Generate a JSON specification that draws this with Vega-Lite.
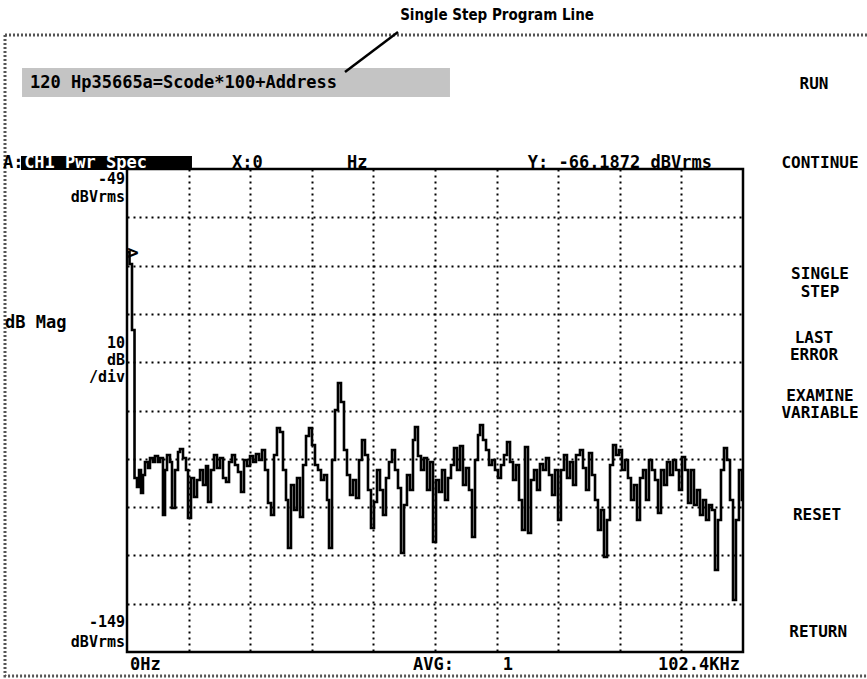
{
  "$schema": "https://vega.github.io/schema/vega-lite/v6.json",
  "width": 616,
  "height": 483,
  "autosize": "none",
  "padding": {"left": 127, "top": 169, "right": 124, "bottom": 27},
  "background": "white",
  "config": {
    "view": {"stroke": "black", "strokeWidth": 2.5},
    "text": {"font": "DejaVu Sans Mono", "fontWeight": "bold", "fontSize": 17, "baseline": "middle", "color": "black"}
  },
  "datasets": {
    "trace": [
      {"f":0,"db":-66.19},{"f":0.42,"db":-68.67},{"f":0.83,"db":-82.33},{"f":1.25,"db":-112.98},{"f":1.66,"db":-114.84},
      {"f":2.0,"db":-111.32},{"f":2.33,"db":-116.08},{"f":2.66,"db":-112.35},{"f":2.99,"db":-109.66},{"f":3.49,"db":-110.9},
      {"f":3.82,"db":-108.83},{"f":4.32,"db":-109.66},{"f":4.65,"db":-108.42},{"f":5.15,"db":-109.66},{"f":5.49,"db":-108.83},
      {"f":5.98,"db":-120.64},{"f":6.32,"db":-111.32},{"f":6.65,"db":-108.21},{"f":7.15,"db":-109.66},{"f":7.48,"db":-119.19},
      {"f":7.98,"db":-111.32},{"f":8.48,"db":-107.59},{"f":8.81,"db":-106.97},{"f":9.31,"db":-108.83},{"f":9.81,"db":-111.32},
      {"f":10.14,"db":-121.26},{"f":10.64,"db":-112.98},{"f":11.14,"db":-116.91},{"f":11.64,"db":-113.39},{"f":12.14,"db":-111.32},
      {"f":12.63,"db":-114.42},{"f":13.13,"db":-110.49},{"f":13.47,"db":-117.94},{"f":13.96,"db":-111.32},{"f":14.46,"db":-108.21},
      {"f":14.96,"db":-110.9},{"f":15.46,"db":-108.83},{"f":15.96,"db":-112.98},{"f":16.46,"db":-113.8},{"f":16.96,"db":-109.66},
      {"f":17.45,"db":-108.21},{"f":17.95,"db":-110.28},{"f":18.45,"db":-111.73},{"f":18.95,"db":-115.87},{"f":19.45,"db":-109.25},
      {"f":19.95,"db":-110.49},{"f":20.45,"db":-108.42},{"f":20.95,"db":-109.66},{"f":21.44,"db":-108.01},{"f":21.94,"db":-109.25},
      {"f":22.44,"db":-107.18},{"f":22.94,"db":-111.32},{"f":23.44,"db":-118.15},{"f":23.94,"db":-120.64},{"f":24.44,"db":-108.21},
      {"f":24.93,"db":-102.62},{"f":25.43,"db":-103.45},{"f":25.93,"db":-111.32},{"f":26.43,"db":-117.53},{"f":26.76,"db":-127.47},
      {"f":27.26,"db":-114.42},{"f":27.76,"db":-119.6},{"f":28.26,"db":-112.98},{"f":28.76,"db":-121.05},{"f":29.26,"db":-110.28},
      {"f":29.76,"db":-104.28},{"f":30.25,"db":-102.62},{"f":30.75,"db":-106.14},{"f":31.25,"db":-110.28},{"f":31.75,"db":-111.32},
      {"f":32.25,"db":-113.39},{"f":32.75,"db":-112.35},{"f":33.25,"db":-117.53},{"f":33.58,"db":-127.47},{"f":34.08,"db":-109.25},
      {"f":34.58,"db":-98.9},{"f":35.07,"db":-93.31},{"f":35.57,"db":-97.24},{"f":36.07,"db":-107.18},{"f":36.57,"db":-112.35},
      {"f":37.07,"db":-116.5},{"f":37.57,"db":-113.39},{"f":38.07,"db":-117.12},{"f":38.57,"db":-109.25},{"f":39.06,"db":-105.11},
      {"f":39.56,"db":-108.21},{"f":40.06,"db":-115.46},{"f":40.56,"db":-123.33},{"f":41.06,"db":-117.94},{"f":41.56,"db":-111.32},
      {"f":42.06,"db":-115.46},{"f":42.55,"db":-120.64},{"f":43.05,"db":-112.98},{"f":43.55,"db":-109.66},{"f":44.05,"db":-107.18},
      {"f":44.55,"db":-111.32},{"f":45.05,"db":-115.05},{"f":45.55,"db":-128.5},{"f":46.05,"db":-118.57},{"f":46.54,"db":-112.35},
      {"f":47.04,"db":-115.46},{"f":47.54,"db":-105.11},{"f":47.87,"db":-102.42},{"f":48.37,"db":-108.42},{"f":48.87,"db":-111.32},
      {"f":49.37,"db":-108.83},{"f":49.87,"db":-115.46},{"f":50.37,"db":-109.66},{"f":50.87,"db":-126.23},{"f":51.37,"db":-113.39},
      {"f":51.86,"db":-115.87},{"f":52.36,"db":-111.32},{"f":52.86,"db":-117.53},{"f":53.36,"db":-112.98},{"f":53.86,"db":-110.28},
      {"f":54.36,"db":-106.76},{"f":54.86,"db":-111.32},{"f":55.36,"db":-106.35},{"f":55.85,"db":-114.42},{"f":56.35,"db":-110.9},
      {"f":56.85,"db":-115.46},{"f":57.35,"db":-125.19},{"f":57.85,"db":-109.25},{"f":58.35,"db":-104.07},{"f":58.68,"db":-102.0},
      {"f":59.18,"db":-105.11},{"f":59.68,"db":-107.18},{"f":60.18,"db":-110.28},{"f":60.67,"db":-109.25},{"f":61.17,"db":-111.32},
      {"f":61.67,"db":-112.98},{"f":62.17,"db":-110.28},{"f":62.67,"db":-108.21},{"f":63.17,"db":-105.52},{"f":63.67,"db":-109.66},
      {"f":64.17,"db":-113.39},{"f":64.66,"db":-110.28},{"f":65.16,"db":-117.53},{"f":65.66,"db":-123.74},{"f":66.16,"db":-106.56},
      {"f":66.66,"db":-124.36},{"f":67.16,"db":-113.39},{"f":67.66,"db":-111.32},{"f":68.15,"db":-115.46},{"f":68.65,"db":-110.08},
      {"f":69.15,"db":-111.32},{"f":69.65,"db":-108.83},{"f":70.15,"db":-112.35},{"f":70.65,"db":-116.5},{"f":71.15,"db":-111.32},
      {"f":71.65,"db":-121.67},{"f":72.14,"db":-111.32},{"f":72.64,"db":-108.21},{"f":73.14,"db":-112.98},{"f":73.64,"db":-109.66},
      {"f":74.14,"db":-114.42},{"f":74.64,"db":-108.21},{"f":75.3,"db":-107.18},{"f":75.8,"db":-110.9},{"f":76.3,"db":-115.46},
      {"f":76.8,"db":-107.8},{"f":77.3,"db":-112.35},{"f":77.8,"db":-117.53},{"f":78.29,"db":-123.74},{"f":78.79,"db":-119.6},
      {"f":79.29,"db":-129.33},{"f":79.79,"db":-121.67},{"f":80.29,"db":-110.28},{"f":80.79,"db":-106.14},{"f":81.29,"db":-108.21},
      {"f":81.79,"db":-107.18},{"f":82.28,"db":-111.32},{"f":82.78,"db":-109.25},{"f":83.28,"db":-112.98},{"f":83.78,"db":-117.53},
      {"f":84.28,"db":-114.42},{"f":84.78,"db":-121.67},{"f":85.28,"db":-112.98},{"f":85.78,"db":-111.32},{"f":86.27,"db":-117.53},
      {"f":86.77,"db":-109.25},{"f":87.27,"db":-111.32},{"f":87.77,"db":-113.39},{"f":88.27,"db":-120.22},{"f":88.77,"db":-111.32},
      {"f":89.27,"db":-114.42},{"f":89.76,"db":-109.66},{"f":90.26,"db":-112.35},{"f":90.76,"db":-109.25},{"f":91.26,"db":-111.32},
      {"f":91.76,"db":-115.46},{"f":92.26,"db":-108.63},{"f":92.76,"db":-111.32},{"f":93.26,"db":-118.15},{"f":93.75,"db":-111.32},
      {"f":94.25,"db":-118.57},{"f":94.75,"db":-115.46},{"f":95.25,"db":-120.64},{"f":95.75,"db":-117.53},{"f":96.25,"db":-121.67},
      {"f":96.75,"db":-118.57},{"f":97.25,"db":-119.6},{"f":97.74,"db":-132.02},{"f":98.24,"db":-121.67},{"f":98.74,"db":-111.32},
      {"f":99.24,"db":-106.76},{"f":99.74,"db":-109.25},{"f":100.24,"db":-117.53},{"f":100.74,"db":-138.23},{"f":101.23,"db":-121.67},
      {"f":101.73,"db":-111.32},{"f":102.23,"db":-117.53},{"f":102.4,"db":-117.53}
    ],
    "boxes": [
      {"name":"border","f":-20.28,"f2":130,"db":-21.26,"db2":-153.97},
      {"name":"prog","f":-17.45,"f2":53.69,"db":-28.09,"db2":-34.09},
      {"name":"hdr","f":-17.62,"f2":10.8,"db":-46.31,"db2":-49.21}
    ],
    "pointer": [{"f":36.24,"db":-28.92,"f2":45.05,"db2":-20.64}],
    "title": [{"f":61.51,"db":-17.12,"t":"Single Step Program Line"}],
    "marker": [{"f":0.05,"db":-66.4,"t":">"}],
    "leftText": [
      {"f":-16.12,"db":-31.19,"t":"120  Hp35665a=Scode*100+Address"},
      {"f":-20.61,"db":-47.76,"t":"A:"},
      {"f":17.45,"db":-47.76,"t":"X:0"},
      {"f":36.57,"db":-47.76,"t":"Hz"},
      {"f":-20.28,"db":-80.88,"t":"dB Mag"},
      {"f":0.5,"db":-151.69,"t":"0Hz"},
      {"f":47.54,"db":-151.69,"t":"AVG:"}
    ],
    "rightText": [
      {"f":97.24,"db":-47.76,"t":"Y: -66.1872 dBVrms"},
      {"f":101.9,"db":-151.69,"t":"102.4KHz"}
    ],
    "axisText": [
      {"f":-0.33,"db":-51.0,"t":"-49"},
      {"f":-0.33,"db":-54.7,"t":"dBVrms"},
      {"f":-0.33,"db":-85.02,"t":"10"},
      {"f":-0.33,"db":-88.54,"t":"dB"},
      {"f":-0.33,"db":-92.06,"t":"/div"},
      {"f":-0.33,"db":-142.79,"t":"-149"},
      {"f":-0.33,"db":-146.9,"t":"dBVrms"}
    ],
    "centerText": [
      {"f":63.33,"db":-151.69,"t":"1"}
    ],
    "softkeys": [
      {"f":114.2,"db":-31.4,"t":"RUN"},
      {"f":115.2,"db":-47.76,"t":"CONTINUE"},
      {"f":115.2,"db":-70.74,"t":"SINGLE"},
      {"f":115.2,"db":-74.47,"t":"STEP"},
      {"f":114.2,"db":-83.99,"t":"LAST"},
      {"f":114.2,"db":-87.51,"t":"ERROR"},
      {"f":115.2,"db":-96.0,"t":"EXAMINE"},
      {"f":115.2,"db":-99.52,"t":"VARIABLE"},
      {"f":114.7,"db":-120.64,"t":"RESET"},
      {"f":114.9,"db":-144.86,"t":"RETURN"}
    ],
    "hdrText": [{"f":-17.1,"db":-47.76,"t":"CH1 Pwr Spec"}]
  },
  "layer": [
    {
      "data": {"name": "trace"},
      "mark": {"type": "line", "interpolate": "step-after", "color": "black", "strokeWidth": 2.6},
      "encoding": {
        "x": {"field": "f", "type": "quantitative", "scale": {"domain": [0, 102.4], "nice": false, "zero": false},
          "axis": {"title": null, "labels": false, "ticks": false, "domain": false, "grid": true,
            "values": [10.24, 20.48, 30.72, 40.96, 51.2, 61.44, 71.68, 81.92, 92.16],
            "gridColor": "black", "gridDash": [2, 4], "gridWidth": 2, "gridOpacity": 1}},
        "y": {"field": "db", "type": "quantitative", "scale": {"domain": [-149, -49], "nice": false, "zero": false},
          "axis": {"title": null, "labels": false, "ticks": false, "domain": false, "grid": true,
            "values": [-59, -69, -79, -89, -99, -109, -119, -129, -139],
            "gridColor": "black", "gridDash": [2, 4], "gridWidth": 2, "gridOpacity": 1}}
      }
    },
    {
      "data": {"name": "boxes"},
      "transform": [{"filter": "datum.name == 'border'"}],
      "mark": {"type": "rect", "fill": null, "stroke": "#555555", "strokeWidth": 3, "strokeDash": [2, 2]},
      "encoding": {
        "x": {"field": "f", "type": "quantitative"},
        "x2": {"field": "f2"},
        "y": {"field": "db", "type": "quantitative"},
        "y2": {"field": "db2"}
      }
    },
    {
      "data": {"name": "boxes"},
      "transform": [{"filter": "datum.name == 'prog'"}],
      "mark": {"type": "rect", "fill": "#c4c4c4"},
      "encoding": {
        "x": {"field": "f", "type": "quantitative"},
        "x2": {"field": "f2"},
        "y": {"field": "db", "type": "quantitative"},
        "y2": {"field": "db2"}
      }
    },
    {
      "data": {"name": "boxes"},
      "transform": [{"filter": "datum.name == 'hdr'"}],
      "mark": {"type": "rect", "fill": "black"},
      "encoding": {
        "x": {"field": "f", "type": "quantitative"},
        "x2": {"field": "f2"},
        "y": {"field": "db", "type": "quantitative"},
        "y2": {"field": "db2"}
      }
    },
    {
      "data": {"name": "pointer"},
      "mark": {"type": "rule", "color": "black", "strokeWidth": 2.5},
      "encoding": {
        "x": {"field": "f", "type": "quantitative"},
        "x2": {"field": "f2"},
        "y": {"field": "db", "type": "quantitative"},
        "y2": {"field": "db2"}
      }
    },
    {
      "data": {"name": "title"},
      "mark": {"type": "text", "align": "center", "font": "DejaVu Sans Condensed", "fontSize": 15, "fontWeight": "bold"},
      "encoding": {
        "x": {"field": "f", "type": "quantitative"},
        "y": {"field": "db", "type": "quantitative"},
        "text": {"field": "t"}
      }
    },
    {
      "data": {"name": "marker"},
      "mark": {"type": "text", "align": "left", "fontSize": 19},
      "encoding": {
        "x": {"field": "f", "type": "quantitative"},
        "y": {"field": "db", "type": "quantitative"},
        "text": {"field": "t"}
      }
    },
    {
      "data": {"name": "leftText"},
      "mark": {"type": "text", "align": "left"},
      "encoding": {
        "x": {"field": "f", "type": "quantitative"},
        "y": {"field": "db", "type": "quantitative"},
        "text": {"field": "t"}
      }
    },
    {
      "data": {"name": "rightText"},
      "mark": {"type": "text", "align": "right"},
      "encoding": {
        "x": {"field": "f", "type": "quantitative"},
        "y": {"field": "db", "type": "quantitative"},
        "text": {"field": "t"}
      }
    },
    {
      "data": {"name": "axisText"},
      "mark": {"type": "text", "align": "right", "fontSize": 15},
      "encoding": {
        "x": {"field": "f", "type": "quantitative"},
        "y": {"field": "db", "type": "quantitative"},
        "text": {"field": "t"}
      }
    },
    {
      "data": {"name": "centerText"},
      "mark": {"type": "text", "align": "center"},
      "encoding": {
        "x": {"field": "f", "type": "quantitative"},
        "y": {"field": "db", "type": "quantitative"},
        "text": {"field": "t"}
      }
    },
    {
      "data": {"name": "softkeys"},
      "mark": {"type": "text", "align": "center", "fontSize": 16},
      "encoding": {
        "x": {"field": "f", "type": "quantitative"},
        "y": {"field": "db", "type": "quantitative"},
        "text": {"field": "t"}
      }
    },
    {
      "data": {"name": "hdrText"},
      "mark": {"type": "text", "align": "left", "color": "white"},
      "encoding": {
        "x": {"field": "f", "type": "quantitative"},
        "y": {"field": "db", "type": "quantitative"},
        "text": {"field": "t"}
      }
    }
  ]
}
